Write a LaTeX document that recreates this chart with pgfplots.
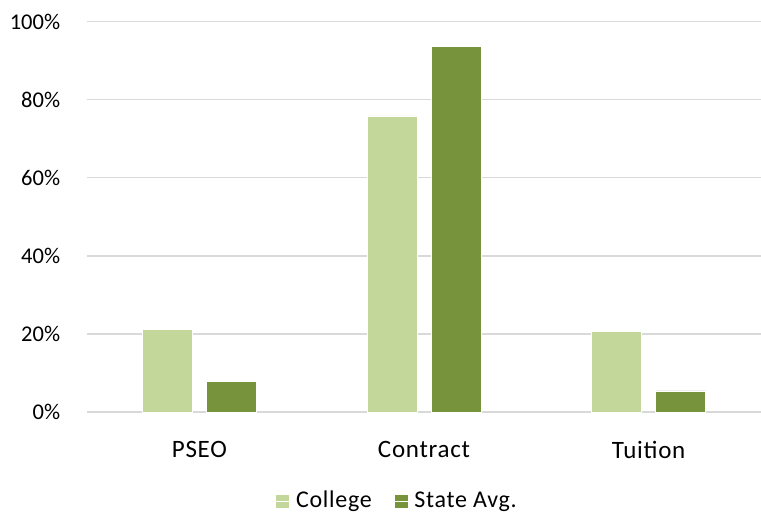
\documentclass[border=0pt]{standalone}
\usepackage{pgfplots}
\pgfplotsset{compat=1.18}
\usepackage{fontspec}
\setmainfont{Carlito}
\definecolor{college}{HTML}{C4D79B}
\definecolor{state}{HTML}{77933C}
\definecolor{gridc}{HTML}{D9D9D9}
\definecolor{txt}{HTML}{000000}
\begin{document}
\fontsize{23bp}{27bp}\selectfont
\begin{tikzpicture}[x=1bp,y=1bp]
\useasboundingbox (0,0) rectangle (761,514);
\begin{axis}[
  at={(87bp,102bp)}, anchor=south west,
  scale only axis,
  width=674bp, height=390.5bp,
  ybar=14bp, bar width=50bp,
  xmin=-0.5, xmax=2.5,
  ymin=0, ymax=100,
  xtick={0,1,2},
  xticklabels={PSEO,Contract,Tuition},
  ytick={0,20,40,60,80,100},
  yticklabel={\pgfmathprintnumber{\tick}\%},
  /pgf/number format/assume math mode=true,
  axis line style={draw=none},
  major tick length=0pt,
  ymajorgrids,
  grid style={gridc, line width=1.5bp},
  yticklabel style={font=\fontsize{22.5bp}{27bp}\selectfont, text=txt, xshift=-19bp},
  xticklabel style={font=\fontsize{25bp}{29bp}\selectfont\addfontfeatures{LetterSpace=3}, text=txt, yshift=-21bp},
  legend style={
    at={(0.46,-0.228)}, anchor=center,
    draw=none, fill=none,
    legend columns=2,
    font=\fontsize{24bp}{28bp}\selectfont\addfontfeatures{LetterSpace=3},
    /tikz/every even column/.append style={column sep=20bp},
  },
  legend image code/.code={\fill[#1] (0bp,-7bp) rectangle (14bp,7bp); \path (0bp,0bp) -- (18bp,0bp);},
  clip=false,
]
\addplot[fill=college, draw=white, line width=0.6bp] coordinates {(0,21.2) (1,75.8) (2,20.7)};
\addplot[fill=state, draw=white, line width=0.6bp] coordinates {(0,7.9) (1,93.6) (2,5.4)};
\legend{College, State Avg.}
\end{axis}
\end{tikzpicture}
\end{document}
